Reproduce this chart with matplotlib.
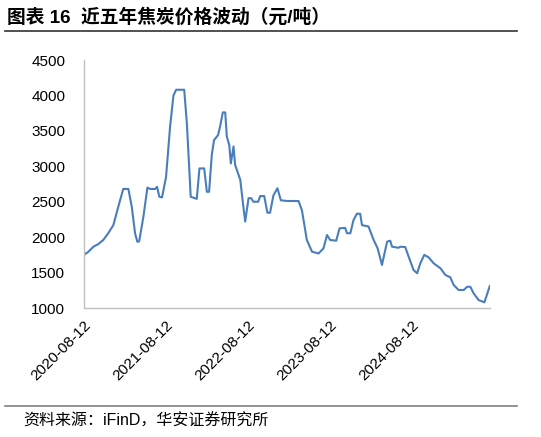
import matplotlib
matplotlib.use("Agg")
import matplotlib.pyplot as plt
import matplotlib.dates as mdates
from matplotlib.lines import Line2D
import pandas as pd

dates = ["2020-08-12", "2020-08-30", "2020-09-23", "2020-10-14", "2020-11-06", "2020-11-27",
         "2020-12-21", "2021-01-12", "2021-02-03", "2021-02-26", "2021-03-13", "2021-03-28",
         "2021-04-07", "2021-04-15", "2021-05-04", "2021-05-22", "2021-06-03", "2021-06-25",
         "2021-07-04", "2021-07-14", "2021-07-26", "2021-08-13", "2021-08-31", "2021-09-15",
         "2021-09-27", "2021-11-02", "2021-11-14", "2021-12-01", "2021-12-28", "2022-01-09",
         "2022-01-30", "2022-02-11", "2022-02-21", "2022-03-05", "2022-03-15", "2022-04-02",
         "2022-04-11", "2022-04-23", "2022-05-04", "2022-05-11", "2022-05-22", "2022-05-29",
         "2022-06-10", "2022-06-17", "2022-07-10", "2022-07-22", "2022-08-01", "2022-08-16",
         "2022-08-28", "2022-09-06", "2022-09-28", "2022-10-07", "2022-10-25", "2022-11-08",
         "2022-11-20", "2022-12-05", "2022-12-23", "2023-01-07", "2023-02-03", "2023-03-27",
         "2023-04-11", "2023-05-03", "2023-05-26", "2023-06-24", "2023-07-16", "2023-08-01",
         "2023-08-15", "2023-09-11", "2023-09-26", "2023-10-21", "2023-10-29", "2023-11-13",
         "2023-11-27", "2023-12-12", "2023-12-27", "2024-01-04", "2024-02-02", "2024-02-25",
         "2024-03-14", "2024-04-02", "2024-04-25", "2024-05-09", "2024-05-17", "2024-06-15",
         "2024-06-23", "2024-07-15", "2024-07-30", "2024-08-21", "2024-09-06", "2024-09-20",
         "2024-10-08", "2024-10-27", "2024-11-19", "2024-12-19", "2025-01-10", "2025-02-01",
         "2025-02-16", "2025-03-10", "2025-04-02", "2025-04-17", "2025-05-01", "2025-05-16",
         "2025-06-07", "2025-07-03", "2025-07-27"]

prices = [1750, 1790, 1865, 1900, 1960, 2050,
          2170, 2430, 2680, 2680, 2430, 2050,
          1935, 1940, 2290, 2700, 2680, 2680,
          2710, 2570, 2560, 2850, 3560, 4000,
          4080, 4080, 3600, 2570, 2540, 2970,
          2970, 2640, 2640, 3160, 3370, 3440,
          3560, 3760, 3760, 3420, 3300, 3040,
          3280, 3020, 2810, 2480, 2220, 2550,
          2550, 2500, 2500, 2580, 2580, 2345,
          2345, 2590, 2690, 2520, 2510, 2510,
          2380, 1960, 1795, 1770, 1840, 2030,
          1960, 1950, 2125, 2130, 2055, 2055,
          2240, 2330, 2330, 2170, 2150, 1960,
          1840, 1607, 1936, 1950, 1865, 1850,
          1865, 1860, 1725, 1536, 1490, 1630,
          1750, 1715, 1630, 1560, 1466, 1433,
          1325, 1254, 1254, 1300, 1300, 1207,
          1113, 1080, 1310]

tick_dates = ["2020-08-12", "2021-08-12", "2022-08-12", "2023-08-12", "2024-08-12"]
y_ticks = [1000, 1500, 2000, 2500, 3000, 3500, 4000, 4500]

title = "图表 16  近五年焦炭价格波动（元/吨）"
source = "资料来源：iFinD，华安证券研究所"

plt.rcParams['font.family'] = ['Liberation Sans', 'Noto Sans CJK SC', 'DejaVu Sans']

x = pd.to_datetime(dates)
fig = plt.figure(figsize=(5.41, 4.37), dpi=100)
ax = fig.add_axes([84/541, 1-308/437, (490-84)/541, (308-60)/437])
ax.plot(x, prices, color="#4a7ebb", lw=1.5)

ax.set_ylim(1000, 4500)
ax.set_yticks(y_ticks)
ax.set_xlim(pd.Timestamp(dates[0]), pd.Timestamp(dates[-1]) + pd.Timedelta(days=1))
tk = pd.to_datetime(tick_dates)
ax.set_xticks(tk)
ax.set_xticklabels([t.strftime("%Y-%m-%d") for t in tk], rotation=45, ha="right",
                   rotation_mode="anchor", fontsize=11)
for lab in ax.get_yticklabels():
    lab.set_fontsize(11)
ax.tick_params(axis="both", length=0, colors="black")
ax.tick_params(axis="y", pad=13.5)
ax.tick_params(axis="x", pad=7)
for s in ["top", "right"]:
    ax.spines[s].set_visible(False)
for s in ["left", "bottom"]:
    ax.spines[s].set_color("#bfbfbf")
    ax.spines[s].set_linewidth(1.0)

fig.text(7/541, 1-17/437, title, fontsize=13.5, fontweight="bold", va="center", ha="left",
         family=['Liberation Sans', 'Noto Sans CJK SC'])
fig.add_artist(Line2D([5/541, 517/541], [1-31/437, 1-31/437], transform=fig.transFigure,
                      color="#333333", lw=1.2))
fig.add_artist(Line2D([5/541, 517/541], [1-406/437, 1-406/437], transform=fig.transFigure,
                      color="#808080", lw=1.2))
fig.text(23/541, 1-421/437, source, fontsize=11.5, va="center", ha="left",
         family=['Liberation Sans', 'Noto Sans CJK SC'])

fig.savefig("out.png", dpi=100)
